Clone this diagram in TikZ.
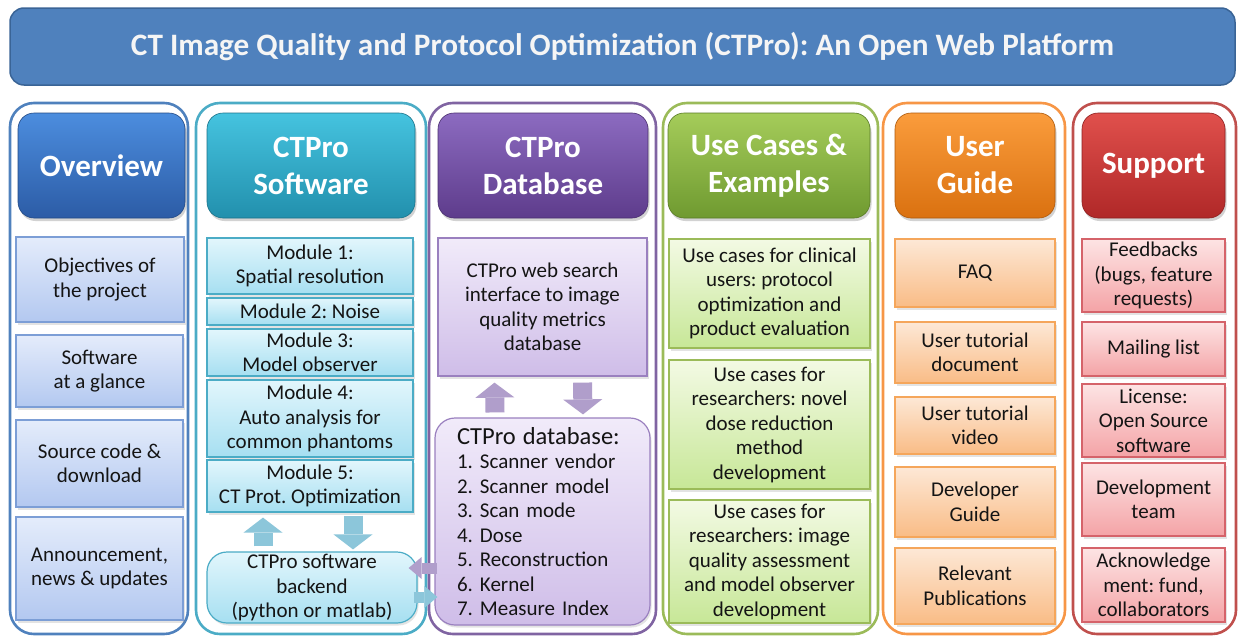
\documentclass[tikz,border=0pt]{standalone}
\usepackage{fontspec}
\setmainfont{Carlito}
\frenchspacing
\usetikzlibrary{arrows.meta,shadows}
\definecolor{hdr}{HTML}{4F81BD}
\definecolor{hdrd}{HTML}{3A6496}
\definecolor{txt}{HTML}{141414}
% blue
\definecolor{bO}{HTML}{4F81BD}\definecolor{bPt}{HTML}{4C8DDE}\definecolor{bPb}{HTML}{2C5CA6}
\definecolor{bIt}{HTML}{E4ECFB}\definecolor{bIb}{HTML}{B3C8F0}\definecolor{bId}{HTML}{7C9ED6}
% teal
\definecolor{tO}{HTML}{4BACC6}\definecolor{tPt}{HTML}{45C3DF}\definecolor{tPb}{HTML}{2290AD}
\definecolor{tIt}{HTML}{E2F6FC}\definecolor{tIb}{HTML}{A6DFF1}\definecolor{tId}{HTML}{4BACC6}
\definecolor{tA}{HTML}{8CC6DA}
% purple
\definecolor{pO}{HTML}{8064A2}\definecolor{pPt}{HTML}{8C6BC0}\definecolor{pPb}{HTML}{5E3C8C}
\definecolor{pIt}{HTML}{F1EBFA}\definecolor{pIb}{HTML}{CFBDE8}\definecolor{pId}{HTML}{9A80BF}
\definecolor{pA}{HTML}{B09ECB}
% green
\definecolor{gO}{HTML}{9BBB59}\definecolor{gPt}{HTML}{A5CC5A}\definecolor{gPb}{HTML}{6F9A30}
\definecolor{gIt}{HTML}{F3FAE4}\definecolor{gIb}{HTML}{C7E797}\definecolor{gId}{HTML}{9BBB59}
% orange
\definecolor{oO}{HTML}{F79646}\definecolor{oPt}{HTML}{FA9C3C}\definecolor{oPb}{HTML}{DA7110}
\definecolor{oIt}{HTML}{FDE8D6}\definecolor{oIb}{HTML}{F9BC86}\definecolor{oId}{HTML}{F5A65B}
% red
\definecolor{rO}{HTML}{C0504D}\definecolor{rPt}{HTML}{E0504C}\definecolor{rPb}{HTML}{B02828}
\definecolor{rIt}{HTML}{FDE4E4}\definecolor{rIb}{HTML}{F4A3A6}\definecolor{rId}{HTML}{D5636A}
\newcommand\bx[7]{\node[#6, minimum width={#4-#2}, minimum height={#5-#3}] (#1) at ({(#2+#4)/2},{(#3+#5)/2}) {#7};}
\tikzset{
  outerbox/.style={draw=#1, line width=2.6pt, rounded corners=24pt, fill=white},
  pill/.style n args={3}{top color=#1, bottom color=#2, draw=#2!80!black, line width=0.6pt,
    rounded corners=16pt, text=white, font=\bfseries\fontsize{31}{37}\selectfont, align=center,
    inner sep=1pt, drop shadow={opacity=0.35, shadow xshift=1.5pt, shadow yshift=-3pt}},
  item/.style n args={3}{top color=#1, bottom color=#2, draw=#3, line width=1.2pt,
    font=\fontsize{21}{24.5}\selectfont, align=center, text=txt, inner xsep=1pt, inner ysep=0pt,
    drop shadow={opacity=0.22, shadow xshift=1.5pt, shadow yshift=-2.5pt}},
  ritem/.style n args={3}{item={#1}{#2}{#3}, rounded corners=20pt},
  blk/.style={draw=#1, line width=19pt, -{Triangle[width=39pt,length=15pt,line width=0pt]}},
  sblk/.style={draw=#1, line width=11pt, -{Triangle[width=22pt,length=13pt,line width=0pt]}},
}
\begin{document}
\begin{tikzpicture}[x=1pt,y=-1pt]
\useasboundingbox (0,0) rectangle (1238,637);
% header
\bx{title}{10}{8}{1235}{85}{fill=hdr, draw=hdrd, line width=1.5pt, rounded corners=14pt, text=white!96!black, font=\bfseries\fontsize{31.2}{34}\selectfont}{CT Image Quality and Protocol Optimization (CTPro): An Open Web Platform}
% outer columns
\bx{o1}{10}{103}{188}{634}{outerbox=bO}{}
\bx{o2}{196}{103}{426}{634}{outerbox=tO}{}
\bx{o3}{429}{103}{656}{634}{outerbox=pO}{}
\bx{o4}{663}{103}{878}{634}{outerbox=gO}{}
\bx{o5}{883}{103}{1065}{634}{outerbox=oO}{}
\bx{o6}{1073}{103}{1236}{634}{outerbox=rO}{}
% pills
\bx{p1}{18}{113}{185}{218}{pill={bPt}{bPb}{}}{Overview}
\bx{p2}{207}{113}{415}{218}{pill={tPt}{tPb}{}}{CTPro\\Software}
\bx{p3}{438}{113}{648}{218}{pill={pPt}{pPb}{}}{CTPro\\Database}
\bx{p4}{668}{113}{870}{218}{pill={gPt}{gPb}{}}{Use Cases \&\\Examples}
\bx{p5}{895}{113}{1055}{218}{pill={oPt}{oPb}{}}{User\\Guide}
\bx{p6}{1082}{113}{1225}{218}{pill={rPt}{rPb}{}}{Support}
% overview
\bx{ov1}{16}{237}{184}{322}{item={bIt}{bIb}{bId}}{Objectives of\\the project}
\bx{ov2}{16}{335}{183}{407}{item={bIt}{bIb}{bId}}{Software\\at a glance}
\bx{ov3}{16}{420}{183}{507}{item={bIt}{bIb}{bId}}{Source code \&\\download}
\bx{ov4}{16}{517}{183}{620}{item={bIt}{bIb}{bId}}{Announcement,\\news \& updates}
% software
\bx{m1}{207}{238}{413}{294}{item={tIt}{tIb}{tId}}{Module 1:\\Spatial resolution}
\bx{m2}{207}{298}{413}{325}{item={tIt}{tIb}{tId}}{Module 2: Noise}
\bx{m3}{207}{329}{413}{376}{item={tIt}{tIb}{tId}}{Module 3:\\Model observer}
\bx{m4}{207}{380}{413}{457}{item={tIt}{tIb}{tId}}{Module 4:\\Auto analysis for\\common phantoms}
\bx{m5}{207}{460}{413}{512}{item={tIt}{tIb}{tId}}{Module 5:\\CT Prot. Optimization}
\bx{back}{207}{552}{417}{623}{ritem={tIt}{tIb}{tId}}{CTPro software\\backend\\(python or matlab)}
% database
\bx{web}{438}{238}{647}{376}{item={pIt}{pIb}{pId}}{CTPro web search\\interface to image\\quality metrics\\database}
\bx{db}{437}{418}{648}{625}{ritem={pIt}{pIb}{pId}, align=left, text width=171pt, inner xsep=22pt, inner ysep=2pt}{{\fontsize{24.5}{24.7}\selectfont CTPro database:}\\1. Scanner vendor\\2. Scanner model\\3. Scan mode\\4. Dose\\5. Reconstruction\\6. Kernel\\7. Measure Index}
% use cases
\bx{uc1}{669}{239}{870}{348}{item={gIt}{gIb}{gId}}{Use cases for clinical\\users: protocol\\optimization and\\product evaluation}
\bx{uc2}{669}{360}{870}{489}{item={gIt}{gIb}{gId}}{Use cases for\\researchers: novel\\dose reduction\\method\\development}
\bx{uc3}{669}{500}{870}{623}{item={gIt}{gIb}{gId}}{Use cases for\\researchers: image\\quality assessment\\and model observer\\development}
% user guide
\bx{ug1}{895}{239}{1055}{307}{item={oIt}{oIb}{oId}}{FAQ}
\bx{ug2}{895}{322}{1055}{383}{item={oIt}{oIb}{oId}}{User tutorial\\document}
\bx{ug3}{895}{397}{1055}{454}{item={oIt}{oIb}{oId}}{User tutorial\\video}
\bx{ug4}{895}{467}{1055}{537}{item={oIt}{oIb}{oId}}{Developer\\Guide}
\bx{ug5}{895}{548}{1055}{624}{item={oIt}{oIb}{oId}}{Relevant\\Publications}
% support
\bx{s1}{1082}{239}{1225}{312}{item={rIt}{rIb}{rId}}{Feedbacks\\(bugs, feature\\requests)}
\bx{s2}{1082}{322}{1225}{376}{item={rIt}{rIb}{rId}}{Mailing list}
\bx{s3}{1082}{384}{1225}{457}{item={rIt}{rIb}{rId}}{License:\\Open Source\\software}
\bx{s4}{1082}{463}{1225}{536}{item={rIt}{rIb}{rId}}{Development\\team}
\bx{s5}{1082}{548}{1225}{622}{item={rIt}{rIb}{rId}}{Acknowledge\\ment: fund,\\collaborators}
% block arrows
\draw[blk=tA] ([xshift=-49pt,yshift=5pt]back.north) -- ([xshift=-47pt,yshift=-5pt]m5.south);
\draw[blk=tA] ([xshift=43pt,yshift=-3pt]m5.south) -- ([xshift=41pt,yshift=2pt]back.north);
\draw[blk=pA] ([xshift=-47.5pt,yshift=5pt]db.north) -- ([xshift=-48pt,yshift=-6pt]web.south);
\draw[blk=pA] ([xshift=40pt,yshift=-6pt]web.south) -- ([xshift=40.5pt,yshift=3pt]db.north);
\draw[sblk=pA] ([xshift=3pt,yshift=-46.5pt]db.west) -- ([xshift=-9pt,yshift=19.5pt]back.east);
\draw[sblk=tA] ([xshift=-4pt,yshift=-9.5pt]back.east) -- ([xshift=3pt,yshift=-75.5pt]db.west);
\end{tikzpicture}
\end{document}
